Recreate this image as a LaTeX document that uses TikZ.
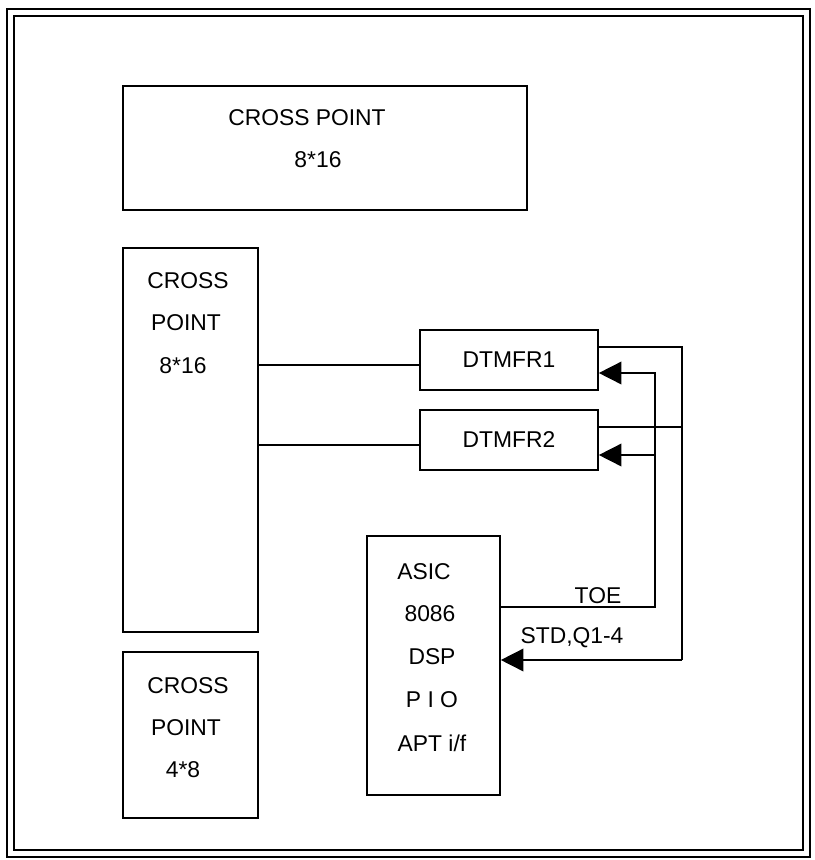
\documentclass[tikz,border=0pt]{standalone}
\usepackage{fontspec}
\setmainfont{Liberation Sans}
\usetikzlibrary{arrows.meta}

\begin{document}
\begin{tikzpicture}[
  x=0.03cm,y=-0.03cm,
  box/.style={draw,line width=1.4pt,inner sep=0pt},
  lbl/.style={font=\fontsize{19.5}{23}\selectfont,inner sep=0pt},
  wire/.style={line width=1.4pt},
  tip/.style={-{Triangle[length=0.68cm,width=0.68cm]}}
]
\useasboundingbox (0,0) rectangle (815,860);
% double frame
\draw[line width=2pt] (7,9) rectangle (810,857);
\draw[line width=1.4pt] (14,16) rectangle (803,850);

% blocks
\node[box,minimum width=12.12cm,minimum height=3.72cm] (cp1) at (325,148) {};
\node[box,minimum width=4.05cm,minimum height=11.52cm] (cp2) at (190.5,440) {};
\node[box,minimum width=4.05cm,minimum height=4.98cm] (cp3) at (190.5,735) {};
\node[box,minimum width=5.34cm,minimum height=1.8cm] (d1) at (509,360) {};
\node[box,minimum width=5.34cm,minimum height=1.8cm] (d2) at (509,440) {};
\node[box,minimum width=3.99cm,minimum height=7.77cm] (asic) at (433.5,665.5) {};

% texts
\node[lbl] (cp1a) at (307,118) {CROSS POINT};
\node[lbl] (cp1b) at (318,160) {8*16};
\node[lbl] (cp2a) at (188,281) {CROSS};
\node[lbl] (cp2b) at (186,323) {POINT};
\node[lbl] (cp2c) at (183,366) {8*16};
\node[lbl] (cp3a) at (188,686) {CROSS};
\node[lbl] (cp3b) at (186,728) {POINT};
\node[lbl] (cp3c) at (183,770) {4*8};
\node[lbl] (d1t) at (509,360) {DTMFR1};
\node[lbl] (d2t) at (509,440) {DTMFR2};
\node[lbl] (asa) at (424,572) {ASIC};
\node[lbl] (asb) at (430,614) {8086};
\node[lbl] (asc) at (432,657) {DSP};
\node[lbl] (asd) at (432,700) {P I O};
\node[lbl] (ase) at (432,743) {APT i/f};
\node[lbl] (toe) at (598,596) {TOE};
\node[lbl] (std) at (572,638) {STD,Q1-4};

% cross point to receivers
\draw[wire] (cp2.east |- 0,365) -- (d1.west |- 0,365);
\draw[wire] (cp2.east |- 0,445) -- (d2.west |- 0,445);

% receivers back to ASIC
\coordinate (rtop) at (682,347);
\coordinate (rmid) at (682,427);
\coordinate (rbot) at (682,660);
\draw[wire] (d1.east |- rtop) -- (rtop) -- (rbot);
\draw[wire] (d2.east |- rmid) -- (rmid);
\draw[wire,tip] (rbot) -- (asic.east |- rbot);

% TOE from ASIC to receivers
\coordinate (ltop) at (655,373);
\coordinate (lmid) at (655,455);
\coordinate (lbot) at (655,607);
\draw[wire,tip] (asic.east |- lbot) -- (lbot) -- (ltop) -- (d1.east |- ltop);
\draw[wire,tip] (lmid) -- (d2.east |- lmid);
\end{tikzpicture}
\end{document}
